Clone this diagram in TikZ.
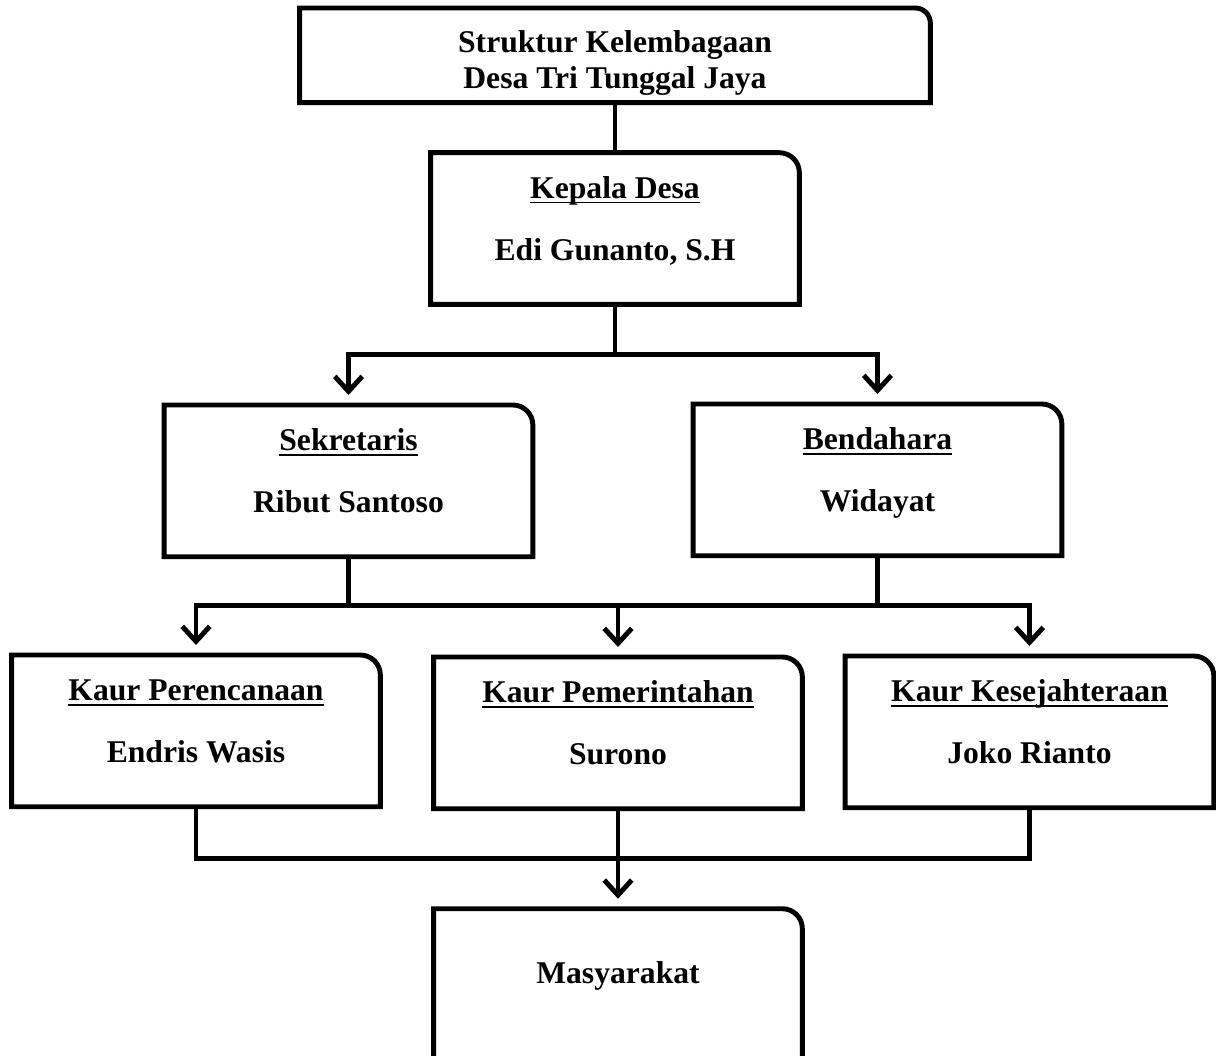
\documentclass[tikz,border=0pt]{standalone}
\usepackage{fontspec}
\setmainfont{Liberation Serif}
\usetikzlibrary{arrows.meta,positioning,calc}

\newsavebox{\garisbox}
\newcommand{\garis}[1]{\sbox{\garisbox}{#1}\rlap{\rule[-3pt]{\wd\garisbox}{1pt}}\usebox{\garisbox}}

\tikzset{
  link/.style={line width=2.8pt},
  arrowlink/.style={link, -{Straight Barb[length=0.3cm,width=0.55cm]}, shorten >=0.2cm},
  orgbox/.style={align=center, inner sep=0pt, anchor=north, minimum width=7.36cm,
    text height=2.14cm, text depth=0.88cm, font=\bfseries\fontsize{18}{20.5}\selectfont},
}
% outline with one rounded corner (top right)
\newcommand{\kotak}[2][0.4cm]{%
  \draw[link] (#2.south west) -- (#2.north west) -- ([xshift=-#1]#2.north east)
    arc[start angle=90, end angle=0, radius=#1] -- (#2.south east) -- cycle;}

\begin{document}
\begin{tikzpicture}
  \useasboundingbox (0,0) rectangle (24.32,-21.12);
  \node[orgbox, minimum width=12.6cm, text height=1.6cm, text depth=0.28cm] (judul) at (12.3,-0.16)
    {Struktur Kelembagaan\\Desa Tri Tunggal Jaya};
  \node[orgbox, below=1.0cm of judul] (kades)
    {\garis{Kepala Desa}\\[0.52cm]Edi Gunanto, S.H};
  \node[orgbox] (sek) at (6.97,-8.1)
    {\garis{Sekretaris}\\[0.52cm]Ribut Santoso};
  \node[orgbox] (bend) at (17.55,-8.08)
    {\garis{Bendahara}\\[0.52cm]Widayat};
  \node[orgbox] (kaur1) at (3.92,-13.1)
    {\garis{Kaur Perencanaan}\\[0.52cm]Endris Wasis};
  \node[orgbox] (kaur2) at (12.36,-13.14)
    {\garis{Kaur Pemerintahan}\\[0.52cm]Surono};
  \node[orgbox] (kaur3) at (20.59,-13.12)
    {\garis{Kaur Kesejahteraan}\\[0.52cm]Joko Rianto};
  \node[orgbox, text height=1.48cm, text depth=2.6cm, below=2.0cm of kaur2] (masy)
    {Masyarakat};
  %
  \kotak[0.3cm]{judul}
  \foreach \n in {kades,sek,bend,kaur1,kaur2,kaur3,masy} {\kotak{\n}}
  %
  \coordinate (kbus) at ($(kades.south)!0.5!(sek.north)$);
  \coordinate (sbus) at ($(sek.south)!0.5!(kaur1.north)$);
  \coordinate (bbus) at ($(kaur2.south)!0.5!(masy.north)$);
  %
  \draw[link] (judul.south) -- (judul.south |- kades.north);
  \draw[link] (kades.south) -- (kades.south |- kbus);
  \draw[arrowlink] (kades.south |- kbus) -| (sek.north);
  \draw[arrowlink] (kades.south |- kbus) -| (bend.north);
  %
  \draw[link] (sek.south) -- (sek.south |- sbus);
  \draw[link] (bend.south) -- (bend.south |- sbus);
  \draw[arrowlink] (kaur2.north |- sbus) -| (kaur1.north);
  \draw[arrowlink] (kaur2.north |- sbus) -| (kaur3.north);
  \draw[arrowlink] (kaur2.north |- sbus) -- (kaur2.north);
  %
  \draw[link] (kaur1.south) |- (bbus) -| (kaur3.south);
  \draw[arrowlink] (kaur2.south) -- (masy.north);
\end{tikzpicture}
\end{document}
